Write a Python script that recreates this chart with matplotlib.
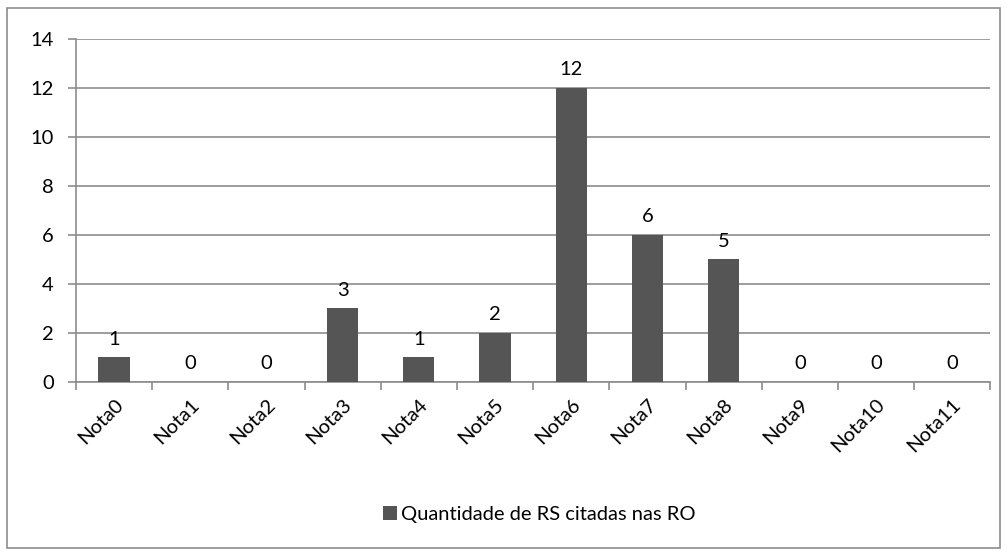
import numpy as np
import matplotlib.pyplot as plt
from matplotlib.patches import Rectangle

categories = ['Nota0', 'Nota1', 'Nota2', 'Nota3', 'Nota4', 'Nota5',
              'Nota6', 'Nota7', 'Nota8', 'Nota9', 'Nota10', 'Nota11']
values = [1, 0, 0, 3, 1, 2, 12, 6, 5, 0, 0, 0]
series_name = 'Quantidade de RS citadas nas RO'

plt.rcParams['font.family'] = ['Lato', 'DejaVu Sans']

fig = plt.figure(figsize=(10.08, 5.56), dpi=100)
ax = fig.add_axes([0.0754, 0.313, 0.907, 0.617])

x = np.arange(len(categories))
bars = ax.bar(x, values, width=0.41, color='#555555', label=series_name, zorder=3)

for xi, v in zip(x, values):
    ax.text(xi, v + 0.4, str(v), ha='center', va='bottom', fontsize=14.5, color='black')

ax.set_xlim(-0.5, len(categories) - 0.5)
ax.set_ylim(0, 14)
ax.set_yticks(range(0, 15, 2))
ax.grid(axis='y', color='#8c8c8c', linewidth=1.2, zorder=0)
ax.tick_params(axis='y', labelsize=14.5, length=6, color='#8c8c8c', width=1.2, pad=10)

ax.set_xticks(x)
ax.set_xticklabels(categories, rotation=45, ha='right', rotation_mode='anchor', fontsize=14.5)
ax.tick_params(axis='x', length=0, pad=10)
ax.set_xticks(np.arange(-0.5, len(categories)), minor=True)
ax.tick_params(axis='x', which='minor', length=6, color='#8c8c8c', width=1.2)

for s in ['top', 'right']:
    ax.spines[s].set_visible(False)
for s in ['left', 'bottom']:
    ax.spines[s].set_color('#8c8c8c')
    ax.spines[s].set_linewidth(1.2)

leg = fig.legend(handles=[bars], labels=[series_name], loc='center',
                 bbox_to_anchor=(0.535, 0.075), frameon=False, fontsize=14.5,
                 handlelength=0.7, handleheight=0.7, handletextpad=0.2)

fig.patches.append(Rectangle((7 / 1008, 1 - 548 / 556), 993 / 1008, 540 / 556,
                             transform=fig.transFigure, fill=False,
                             edgecolor='#8c8c8c', linewidth=1.2))

fig.savefig('out.png', dpi=100)
